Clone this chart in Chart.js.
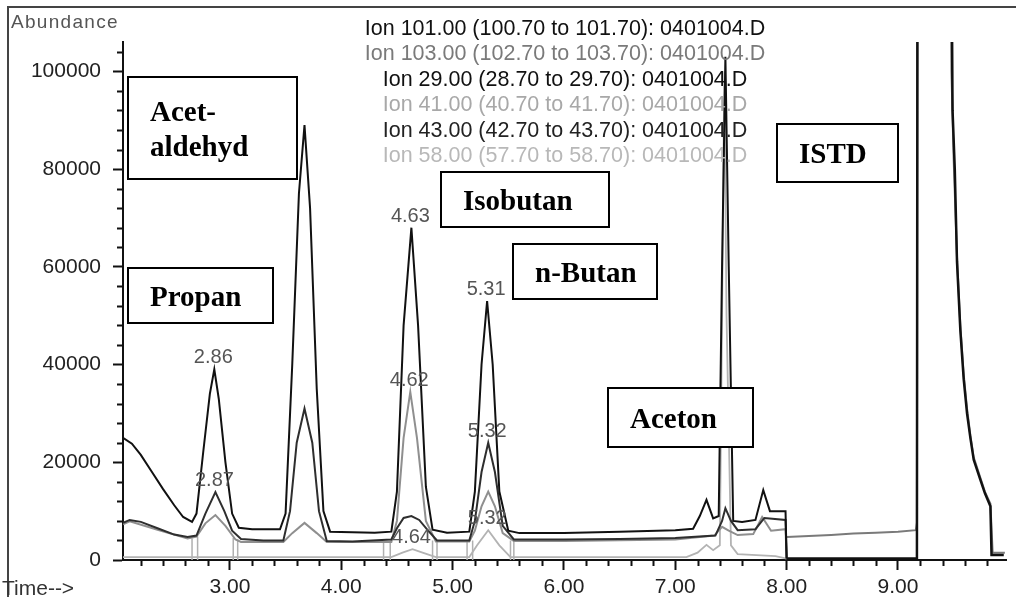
<!DOCTYPE html>
<html>
<head>
<meta charset="utf-8">
<script src="https://cdn.jsdelivr.net/npm/chart.js@4.4.1/dist/chart.umd.min.js"></script>
<style>
  body { margin: 0; background: #fff; }
  canvas { display: block; }
</style>
</head>
<body>
<canvas id="chrom" width="1016" height="597"></canvas>
<script>
// Achsen
const xTicks = [3, 4, 5, 6, 7, 8, 9];
const yTicks = [0, 20000, 40000, 60000, 80000, 100000];

// Spuren vor 8.00 min (SIM-Gruppe 1)
const ion43Time = [2.04, 2.12, 2.2, 2.3, 2.4, 2.5, 2.58, 2.66, 2.7, 2.76, 2.82, 2.86, 2.9, 2.96, 3.02, 3.08, 3.2, 3.45, 3.5, 3.56, 3.62, 3.67, 3.72, 3.78, 3.84, 3.9, 4.1, 4.3, 4.45, 4.5, 4.56, 4.63, 4.69, 4.76, 4.82, 4.95, 5.15, 5.2, 5.26, 5.31, 5.36, 5.42, 5.5, 5.6, 6.0, 6.5, 7.0, 7.16, 7.22, 7.28, 7.34, 7.39, 7.42, 7.45, 7.48, 7.52, 7.6, 7.72, 7.79, 7.85, 7.99, 8.0];
const ion43Abund = [25000, 23800, 21500, 18000, 14500, 11200, 8800, 7800, 9500, 22000, 34000, 39000, 33000, 20000, 9500, 6600, 6300, 6300, 9500, 40000, 75000, 89000, 72000, 35000, 10000, 5800, 5700, 5600, 5800, 14000, 48000, 68000, 48000, 15000, 6200, 5600, 5800, 14000, 40000, 53000, 40000, 14000, 6000, 5500, 5500, 5800, 6100, 6400, 9000, 12300, 8500, 9000, 60000, 103000, 60000, 8000, 7800, 8200, 14300, 10000, 10000, 300];

const ion29Time = [2.04, 2.1, 2.2, 2.35, 2.5, 2.62, 2.7, 2.78, 2.87, 2.95, 3.02, 3.1, 3.3, 3.48, 3.54, 3.6, 3.67, 3.74, 3.8, 3.87, 4.1, 4.45, 4.5, 4.56, 4.63, 4.7, 4.78, 4.86, 5.15, 5.2, 5.26, 5.32, 5.38, 5.45, 5.55, 6.0, 6.5, 7.0, 7.36, 7.42, 7.45, 7.5, 7.56, 7.72, 7.8, 7.99, 8.0];
const ion29Abund = [7600, 8200, 7800, 6500, 5200, 4700, 5000, 9500, 13900, 10000, 6000, 4300, 4000, 4000, 10000, 24000, 31000, 24000, 10000, 3900, 3800, 4200, 6500, 8600, 9000, 8200, 6000, 4000, 4000, 8000, 18000, 24000, 18000, 7000, 4200, 4200, 4300, 4500, 5000, 8000, 10600, 8000, 6100, 6300, 8600, 8200, 300];

const ion41Time = [2.04, 2.1, 2.35, 2.62, 2.7, 2.78, 2.87, 2.96, 3.05, 3.1, 3.48, 3.56, 3.67, 3.78, 3.87, 4.45, 4.5, 4.56, 4.62, 4.68, 4.76, 4.85, 5.15, 5.2, 5.26, 5.32, 5.38, 5.45, 5.55, 6.0, 7.0, 7.35, 7.42, 7.48, 7.56, 7.7, 7.78, 7.86, 7.99, 8.0];
const ion41Abund = [7300, 7900, 6200, 4400, 4800, 7500, 9200, 7000, 4200, 3700, 3700, 5500, 7600, 5500, 3700, 3700, 8000, 25000, 34400, 25000, 8000, 3800, 3800, 6000, 11000, 14000, 11000, 5500, 3900, 3900, 4200, 5000, 6800, 6000, 5100, 5300, 8800, 6000, 6300, 300];

const ion58Time = [2.04, 4.45, 4.55, 4.64, 4.73, 4.85, 5.15, 5.22, 5.32, 5.42, 5.52, 7.1, 7.2, 7.28, 7.34, 7.4, 7.42, 7.44, 7.46, 7.5, 7.56, 7.9, 8.0];
const ion58Abund = [600, 600, 1500, 2200, 1500, 600, 600, 3000, 6100, 3000, 600, 600, 1500, 3100, 2000, 3000, 50000, 100000, 50000, 3000, 1200, 800, 300];

// Spuren ab 8.00 min (SIM-Gruppe 2, ISTD)
const ion101Time = [8.0, 9.17, 9.18, 9.3, 9.46, 9.49, 9.51, 9.53, 9.56, 9.59, 9.62, 9.65, 9.68, 9.74, 9.78, 9.83, 9.84, 9.95];
const ion101Abund = [300, 300, 260000, 400000, 200000, 92000, 80000, 61000, 47000, 37000, 30000, 25000, 20500, 16400, 13700, 11000, 1000, 1000];

const ion103Time = [8.0, 8.2, 8.4, 8.6, 8.8, 9.0, 9.16, 9.17, 9.18, 9.3, 9.46, 9.48, 9.5, 9.53, 9.56, 9.59, 9.62, 9.65, 9.68, 9.74, 9.78, 9.83, 9.85, 9.96];
const ion103Abund = [4700, 4900, 5100, 5400, 5600, 5800, 6100, 7600, 250000, 400000, 190000, 100000, 82000, 62000, 48000, 38000, 31000, 25500, 21000, 16800, 14000, 11500, 1500, 1500];

// Integrationsgrenzen (senkrechte Striche)
const cutTimes = [2.66, 2.71, 3.03, 3.07, 4.38, 4.44, 4.82, 4.86, 5.13, 5.18, 5.52, 5.55];
const cutTops = [4400, 4800, 4500, 4200, 3700, 4000, 4000, 3800, 3800, 4000, 4000, 3900];

// Peakbeschriftungen
const peakTimes = [2.86, 2.87, 4.63, 4.62, 4.64, 5.31, 5.32, 5.32];
const peakAbund = [39000, 13900, 68000, 34400, 2200, 53000, 24000, 6100];
const peakTexts = ['2.86', '2.87', '4.63', '4.62', '4.64', '5.31', '5.32', '5.32'];

const legendLabels = [
  'Ion 101.00 (100.70 to 101.70): 0401004.D',
  'Ion 103.00 (102.70 to 103.70): 0401004.D',
  'Ion 29.00 (28.70 to 29.70): 0401004.D',
  'Ion 41.00 (40.70 to 41.70): 0401004.D',
  'Ion 43.00 (42.70 to 43.70): 0401004.D',
  'Ion 58.00 (57.70 to 58.70): 0401004.D'
];
const legendColors = ['#111', '#7a7a7a', '#111', '#a8a8a8', '#222', '#b8b8b8'];

// Kästchen mit Substanznamen
const boxes = [
  { lines: ['Acet-', 'aldehyd'], x: 128, y: 77, w: 169, h: 102 },
  { lines: ['Propan'], x: 128, y: 268, w: 145, h: 55 },
  { lines: ['Isobutan'], x: 441, y: 172, w: 168, h: 55 },
  { lines: ['n-Butan'], x: 513, y: 244, w: 144, h: 55 },
  { lines: ['Aceton'], x: 608, y: 388, w: 145, h: 59 },
  { lines: ['ISTD'], x: 777, y: 124, w: 121, h: 58 }
];

function pts(t, v) {
  return t.map((x, i) => ({ x: x, y: v[i] }));
}

const cutPoints = [];
cutTimes.forEach((t, i) => {
  cutPoints.push({ x: t, y: 0 }, { x: t, y: cutTops[i] }, { x: t, y: null });
});

function line(label, data, color, width) {
  return { label, data, borderColor: color, borderWidth: width, pointRadius: 0, tension: 0, fill: false, spanGaps: false };
}

const decor = {
  id: 'decor',
  beforeDraw(chart) {
    const c = chart.ctx;
    c.save();
    c.fillStyle = '#fff';
    c.fillRect(0, 0, chart.width, chart.height);
    c.strokeStyle = '#444';
    c.lineWidth = 2;
    c.beginPath();
    c.moveTo(8, chart.height);
    c.lineTo(8, 7);
    c.lineTo(chart.width, 7);
    c.stroke();
    c.restore();
  },
  afterDraw(chart) {
    const c = chart.ctx;
    const xs = chart.scales.x, ys = chart.scales.y;
    const area = chart.chartArea;
    c.save();
    // kleine Teilstriche
    c.strokeStyle = '#111';
    c.lineWidth = 2;
    c.beginPath();
    for (let k = 11; k < 50; k++) {
      const t = k / 5;
      if (k % 5 === 0 || t < xs.min || t > xs.max) continue;
      const px = Math.round(xs.getPixelForValue(t)) + 0.5;
      c.moveTo(px, area.bottom);
      c.lineTo(px, area.bottom + 6);
    }
    for (let v = 4000; v <= 104000; v += 4000) {
      if (v % 20000 === 0) continue;
      const py = Math.round(ys.getPixelForValue(v)) + 0.5;
      c.moveTo(area.left, py);
      c.lineTo(area.left - 6, py);
    }
    c.stroke();

    // Achsentitel
    c.fillStyle = '#555';
    c.font = '19px "Liberation Sans", Arial, sans-serif';
    c.textAlign = 'left';
    c.textBaseline = 'alphabetic';
    c.letterSpacing = '1.3px';
    c.fillText('Abundance', 11, 28);
    c.letterSpacing = '0px';
    c.fillStyle = '#333';
    c.font = '21px "Liberation Sans", Arial, sans-serif';
    c.fillText('Time-->', 2, 595);

    // Legende
    c.textAlign = 'center';
    c.font = '21.5px "Liberation Sans", Arial, sans-serif';
    legendLabels.forEach((s, i) => {
      c.fillStyle = legendColors[i];
      c.fillText(s, 565, 35 + i * 25.4);
    });

    // Peakbeschriftungen
    c.fillStyle = '#555';
    c.font = '20px "Liberation Sans", Arial, sans-serif';
    peakTexts.forEach((s, i) => {
      const px = xs.getPixelForValue(peakTimes[i]);
      const py = ys.getPixelForValue(peakAbund[i]);
      c.fillText(s, px - 1, py - 6);
    });

    // Kästchen
    c.textAlign = 'left';
    c.font = 'bold 29px "Liberation Serif", "Times New Roman", serif';
    boxes.forEach(b => {
      c.fillStyle = '#fff';
      c.fillRect(b.x, b.y, b.w, b.h);
      c.strokeStyle = '#000';
      c.lineWidth = 2;
      c.strokeRect(b.x, b.y, b.w, b.h);
      c.fillStyle = '#000';
      const n = b.lines.length;
      b.lines.forEach((s, j) => {
        const base = b.y + b.h / 2 + 10 + (j - (n - 1) / 2) * 35;
        c.fillText(s, b.x + 22, base);
      });
    });
    c.restore();
  }
};

new Chart(document.getElementById('chrom'), {
  type: 'line',
  data: {
    datasets: [
      line('Ion 43.00', pts(ion43Time, ion43Abund), '#111', 2),
      line('Ion 29.00', pts(ion29Time, ion29Abund), '#2e2e2e', 2),
      line('Ion 101.00', pts(ion101Time, ion101Abund), '#111', 2.5),
      line('Ion 103.00', pts(ion103Time, ion103Abund), '#7a7a7a', 2),
      line('Ion 41.00', pts(ion41Time, ion41Abund), '#8f8f8f', 2),
      line('Ion 58.00', pts(ion58Time, ion58Abund), '#b3b3b3', 1.8),
      line('cuts', cutPoints, '#b0b0b0', 1.5)
    ]
  },
  options: {
    responsive: false,
    animation: false,
    layout: { padding: { top: 42, right: 10, left: 0, bottom: 0 } },
    plugins: { legend: { display: false }, tooltip: { enabled: false } },
    scales: {
      x: {
        type: 'linear',
        min: 2.04,
        max: 9.97,
        afterBuildTicks: s => { s.ticks = xTicks.map(v => ({ value: v })); },
        afterFit: s => { s.height = 37; },
        grid: { drawOnChartArea: false, tickLength: 10, tickWidth: 2, tickColor: '#111' },
        border: { color: '#111', width: 2 },
        ticks: {
          color: '#222',
          padding: 5,
          maxRotation: 0,
          autoSkip: false,
          font: { size: 21, family: '"Liberation Sans", Arial, sans-serif' },
          callback: v => v.toFixed(2)
        }
      },
      y: {
        type: 'linear',
        min: 0,
        max: 106000,
        afterBuildTicks: s => { s.ticks = yTicks.map(v => ({ value: v })); },
        afterFit: s => { s.width = 123; },
        grid: { drawOnChartArea: false, tickLength: 10, tickWidth: 2, tickColor: '#111' },
        border: { color: '#111', width: 2 },
        ticks: {
          color: '#222',
          padding: 12,
          autoSkip: false,
          font: { size: 21, family: '"Liberation Sans", Arial, sans-serif' },
          callback: v => String(v)
        }
      }
    }
  },
  plugins: [decor]
});
</script>
</body>
</html>
